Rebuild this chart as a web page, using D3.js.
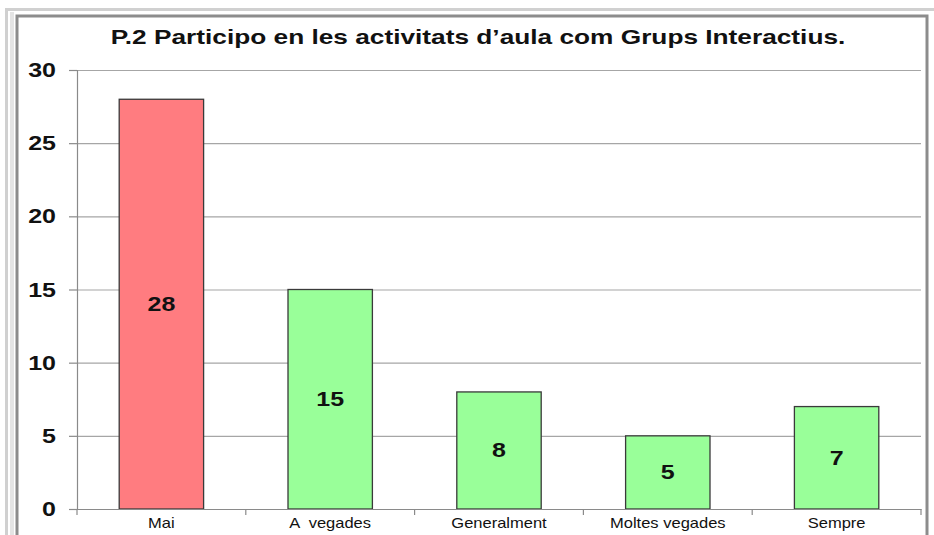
<html>
<head>
<style>
  body { margin: 0; background: #fff; }
  svg { display: block; }
  text { white-space: pre; }
</style>
</head>
<body>
<svg></svg>
<script src="https://d3js.org/d3.v7.min.js"></script>
<script>
var categories = ["Mai", "A  vegades", "Generalment", "Moltes vegades", "Sempre"];
var values = [28, 15, 8, 5, 7];
var barColors = ["#FF7C80", "#99FF99", "#99FF99", "#99FF99", "#99FF99"];
var yTicks = [0, 5, 10, 15, 20, 25, 30];
var title = "P.2 Participo en les activitats d\u2019aula com Grups Interactius.";

var W = 934, H = 535;
var svg = d3.select("svg").attr("width", W).attr("height", H);
var FONT = "Liberation Sans, Arial, sans-serif";

// frame (double gray border, cut off on right/bottom)
svg.append("rect").attr("x", 6.5).attr("y", 9.5).attr("width", 940).attr("height", 540)
  .attr("fill", "none").attr("stroke", "#d0d0d0").attr("stroke-width", 3);
svg.append("rect").attr("x", 17).attr("y", 16).attr("width", 910).attr("height", 540)
  .attr("fill", "#fff").attr("stroke", "#8c8c8c").attr("stroke-width", 3);
svg.append("line").attr("x1", 12).attr("x2", 12).attr("y1", 12).attr("y2", 535)
  .attr("stroke", "#e4e4e4").attr("stroke-width", 4);

var m = { left: 77, right: 921, top: 70, bottom: 509 };

var x = d3.scaleBand().domain(categories).range([m.left, m.right]).paddingInner(0.5).paddingOuter(0.25);
var y = d3.scaleLinear().domain([0, 30]).range([m.bottom, m.top]);

// stretched text helper (reference text is wider than plain Arial)
function wideText(g, tx, ty, str, size, sx, anchor) {
  var t = g.append("g").attr("transform", "translate(" + tx + "," + ty + ") scale(" + sx + ",1)")
    .append("text")
    .attr("text-anchor", anchor || "middle")
    .attr("font-family", FONT).attr("font-size", size).attr("fill", "#111")
    .text(str);
  return t;
}

// gridlines
svg.append("g").selectAll("line").data(yTicks.filter(function(t){ return t > 0; })).enter()
  .append("line")
  .attr("x1", m.left).attr("x2", m.right)
  .attr("y1", function(d){ return y(d) + 0.5; }).attr("y2", function(d){ return y(d) + 0.5; })
  .attr("stroke", "#a6a6a6").attr("stroke-width", 1.2);

// bars
svg.append("g").selectAll("rect").data(values).enter()
  .append("rect")
  .attr("x", function(d, i){ return x(categories[i]); })
  .attr("y", function(d){ return y(d); })
  .attr("width", x.bandwidth())
  .attr("height", function(d){ return y(0) - y(d); })
  .attr("fill", function(d, i){ return barColors[i]; })
  .attr("stroke", "#3a3a3a").attr("stroke-width", 1.3);

// value labels
var gl = svg.append("g");
values.forEach(function(d, i) {
  wideText(gl, x(categories[i]) + x.bandwidth() / 2, (y(d) + y(0)) / 2 + 7, d, 20, 1.25)
    .attr("font-weight", "bold");
});

// y axis
var gy = svg.append("g").attr("transform", "translate(" + m.left + ",0)")
  .call(d3.axisLeft(y).tickValues(yTicks).tickSize(8).tickFormat(""));
gy.select(".domain").attr("stroke", "#8a8a8a").attr("stroke-width", 1.2);
gy.selectAll(".tick line").attr("stroke", "#8a8a8a").attr("stroke-width", 1.2);
var gyl = svg.append("g");
yTicks.forEach(function(t) {
  wideText(gyl, 56, y(t) + 7, t, 20, 1.25, "end").attr("font-weight", "bold");
});

// x axis
var gx = svg.append("g").attr("transform", "translate(0," + m.bottom + ")")
  .call(d3.axisBottom(x).tickSize(0).tickFormat(""));
gx.select(".domain").attr("stroke", "#8a8a8a").attr("stroke-width", 1.2);
var sep = d3.range(categories.length + 1).map(function(i){ return m.left + i * (m.right - m.left) / categories.length; });
gx.selectAll(".sep").data(sep).enter().append("line").attr("class", "sep")
  .attr("x1", function(d){ return d; }).attr("x2", function(d){ return d; })
  .attr("y1", 0).attr("y2", 6)
  .attr("stroke", "#8a8a8a").attr("stroke-width", 1.2);
var gxl = svg.append("g");
categories.forEach(function(c) {
  wideText(gxl, x(c) + x.bandwidth() / 2, m.bottom + 19, c, 14, 1.18);
});

// title
wideText(svg.append("g"), 478, 44, title, 21, 1.25).attr("font-weight", "bold");
</script>
</body>
</html>
